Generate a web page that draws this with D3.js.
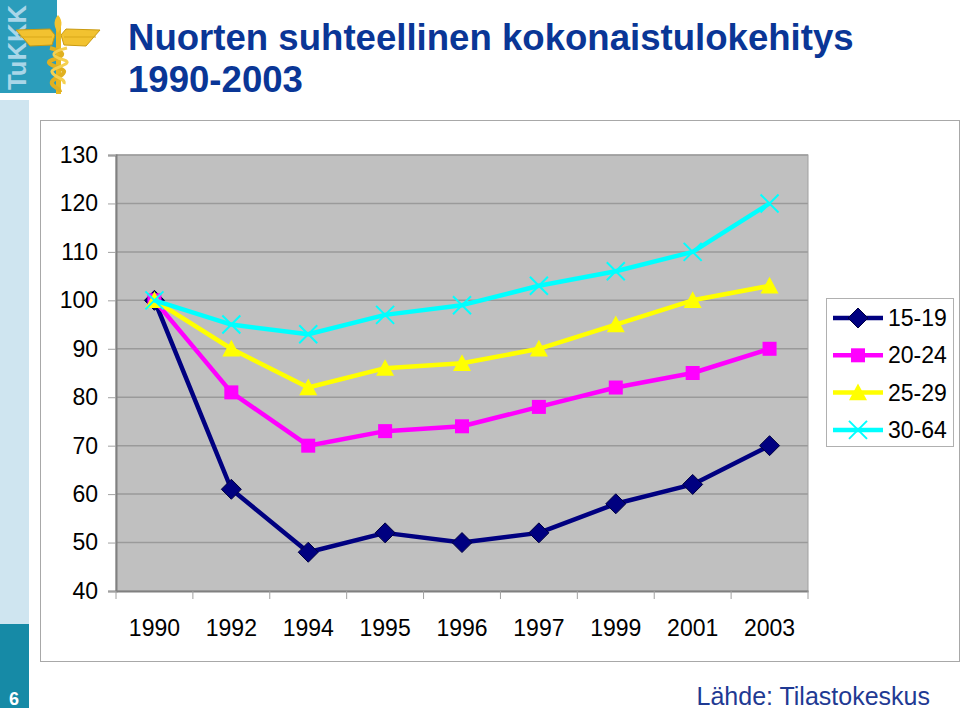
<!DOCTYPE html>
<html><head><meta charset="utf-8">
<script src="https://cdn.jsdelivr.net/npm/d3@7/dist/d3.min.js"></script>
<style>body{margin:0;background:#fff}svg{display:block;font-family:"Liberation Sans",Arial,sans-serif}</style>
</head><body>
<script>
const years = ["1990","1992","1994","1995","1996","1997","1999","2001","2003"];
const s1519 = [100,61,48,52,50,52,58,62,70];
const s2024 = [100,81,70,73,74,78,82,85,90];
const s2529 = [100,90,82,86,87,90,95,100,103];
const s3064 = [100,95,93,97,99,103,106,110,120];
const seriesNames = ["15-19","20-24","25-29","30-64"];
const yTicks = [40,50,60,70,80,90,100,110,120,130];

const series = [
  {name:seriesNames[0], values:s1519, color:"#000080", marker:"diamond"},
  {name:seriesNames[1], values:s2024, color:"#ff00ff", marker:"square"},
  {name:seriesNames[2], values:s2529, color:"#ffff00", marker:"triangle"},
  {name:seriesNames[3], values:s3064, color:"#00ffff", marker:"x"}
];

const W=960,H=714;
const svg=d3.select("body").append("svg").attr("width",W).attr("height",H);

// left decorative bar
svg.append("rect").attr("x",0).attr("y",100).attr("width",29).attr("height",524).attr("fill","#cfe5f0");
svg.append("rect").attr("x",0).attr("y",624).attr("width",29).attr("height",84).attr("fill","#168aa6");
svg.append("text").attr("x",14).attr("y",705).attr("text-anchor","middle").attr("fill","#fff")
  .attr("font-size",18).attr("font-weight","bold").text("6");

// logo
const logo=svg.append("g");
logo.append("rect").attr("x",0).attr("y",0).attr("width",57).attr("height",93).attr("fill","#2b9dbb");
logo.append("text").attr("transform","translate(26,90) rotate(-90)").attr("fill","#a9d6e8")
  .attr("font-size",26).attr("font-weight","bold").attr("textLength",85).attr("lengthAdjust","spacingAndGlyphs").text("TuKKK");
// wings
logo.append("path").attr("d","M16,30 L50,29 L55,35 L52,45 L30,46 Z").attr("fill","#f2c230").attr("stroke","#c99a10").attr("stroke-width",1);
logo.append("path").attr("d","M100,30 L66,29 L61,35 L64,45 L86,46 Z").attr("fill","#f2c230").attr("stroke","#c99a10").attr("stroke-width",1);
logo.append("line").attr("x1",20).attr("x2",52).attr("y1",37).attr("y2",37).attr("stroke","#d9a818").attr("stroke-width",1);
logo.append("line").attr("x1",64).attr("x2",96).attr("y1",37).attr("y2",37).attr("stroke","#d9a818").attr("stroke-width",1);
logo.append("rect").attr("x",56).attr("y",20).attr("width",5).attr("height",74).attr("fill","#e8b820");
logo.append("path").attr("d","M58,15 C52,22 55,28 58,33 C61,28 64,22 58,15 Z").attr("fill","#f2c230");
logo.append("path").attr("d","M50,48 C66,52 66,56 52,60 C40,64 66,68 64,72 C62,78 50,78 52,84 C54,88 60,88 60,92")
  .attr("fill","none").attr("stroke","#e0b020").attr("stroke-width",4);
logo.append("path").attr("d","M67,48 C50,52 50,56 64,60 C76,64 50,68 52,72 C54,78 66,78 64,84")
  .attr("fill","none").attr("stroke","#f5d050").attr("stroke-width",3);

// title
svg.append("text").attr("x",128).attr("y",50).attr("fill","#0a3696").attr("font-size",36.6).attr("font-weight","bold")
  .text("Nuorten suhteellinen kokonaistulokehitys");
svg.append("text").attr("x",128).attr("y",92).attr("fill","#0a3696").attr("font-size",36.6).attr("font-weight","bold")
  .text("1990-2003");

// chart frame
svg.append("rect").attr("x",40.5).attr("y",120.5).attr("width",919).attr("height",541)
  .attr("fill","#fff").attr("stroke","#a8a8a8").attr("stroke-width",1);

// plot
const L=116,R=808,T=155,B=591;
const x=d3.scaleBand().domain(years).range([L,R]);
const y=d3.scaleLinear().domain([40,130]).range([B,T]);

svg.append("rect").attr("x",L).attr("y",T).attr("width",R-L).attr("height",B-T).attr("fill","#c0c0c0");
svg.append("g").selectAll("line").data(yTicks.filter(d=>d>40)).join("line")
  .attr("x1",L).attr("x2",R).attr("y1",d=>y(d)).attr("y2",d=>y(d))
  .attr("stroke","#9a9a9a").attr("stroke-width",1.5);
svg.append("rect").attr("x",L).attr("y",T).attr("width",R-L).attr("height",B-T)
  .attr("fill","none").attr("stroke","#a0a0a0").attr("stroke-width",1);

// y axis
const yAxis=d3.axisLeft(y).tickValues(yTicks).tickSize(8).tickPadding(10);
const gy=svg.append("g").attr("transform",`translate(${L},0)`).call(yAxis);
gy.select(".domain").attr("stroke","#808080").attr("stroke-width",2);
gy.selectAll(".tick line").attr("stroke","#a0a0a0");
gy.selectAll(".tick text").attr("font-size",23).attr("fill","#000").attr("font-family","Liberation Sans, Arial, sans-serif");

// x axis
const xAxis=d3.axisBottom(x).tickSize(0).tickPadding(29);
const gx=svg.append("g").attr("transform",`translate(0,${B})`).call(xAxis);
gx.select(".domain").attr("stroke","#808080").attr("stroke-width",2);
gx.selectAll(".tick text").attr("font-size",23).attr("fill","#000").attr("font-family","Liberation Sans, Arial, sans-serif");
svg.append("g").selectAll("line").data(d3.range(years.length+1)).join("line")
  .attr("x1",i=>L+i*x.step()).attr("x2",i=>L+i*x.step()).attr("y1",B).attr("y2",B+8)
  .attr("stroke","#a0a0a0");

const cx=d=>x(d)+x.bandwidth()/2;

function drawMarker(g,type,color,px,py){
  if(type==="diamond"){
    const r=10;
    g.append("path").attr("d",`M${px},${py-r}L${px+r},${py}L${px},${py+r}L${px-r},${py}Z`)
      .attr("fill",color).attr("stroke","#000040").attr("stroke-width",1);
  } else if(type==="square"){
    const r=7;
    g.append("rect").attr("x",px-r).attr("y",py-r).attr("width",2*r).attr("height",2*r).attr("fill",color);
  } else if(type==="triangle"){
    const r=9;
    g.append("path").attr("d",`M${px},${py-r}L${px+r},${py+r*0.85}L${px-r},${py+r*0.85}Z`).attr("fill",color);
  } else {
    const r=9;
    g.append("path").attr("d",`M${px-r},${py-r}L${px+r},${py+r}M${px+r},${py-r}L${px-r},${py+r}`)
      .attr("stroke",color).attr("stroke-width",2).attr("fill","none");
  }
}

const line=d3.line().x((d,i)=>cx(years[i])).y(d=>y(d));
series.forEach(s=>{
  const g=svg.append("g");
  g.append("path").datum(s.values).attr("d",line).attr("fill","none")
    .attr("stroke",s.color).attr("stroke-width",4.5).attr("stroke-linejoin","round");
  s.values.forEach((v,i)=>drawMarker(g,s.marker,s.color,cx(years[i]),y(v)));
});

// legend
const lg=svg.append("g");
lg.append("rect").attr("x",826.5).attr("y",298.5).attr("width",127).attr("height",148)
  .attr("fill","#fff").attr("stroke","#b0b0b0");
series.forEach((s,i)=>{
  const ly=318+i*37.3;
  lg.append("line").attr("x1",833).attr("x2",883).attr("y1",ly).attr("y2",ly)
    .attr("stroke",s.color).attr("stroke-width",4.5);
  drawMarker(lg,s.marker,s.color,858,ly);
  lg.append("text").attr("x",888).attr("y",ly+8).attr("font-size",23).attr("fill","#000").text(s.name);
});

// source
svg.append("text").attr("x",930).attr("y",705).attr("text-anchor","end").attr("fill","#1f3a93")
  .attr("font-size",25).text("Lähde: Tilastokeskus");
</script>
</body></html>
